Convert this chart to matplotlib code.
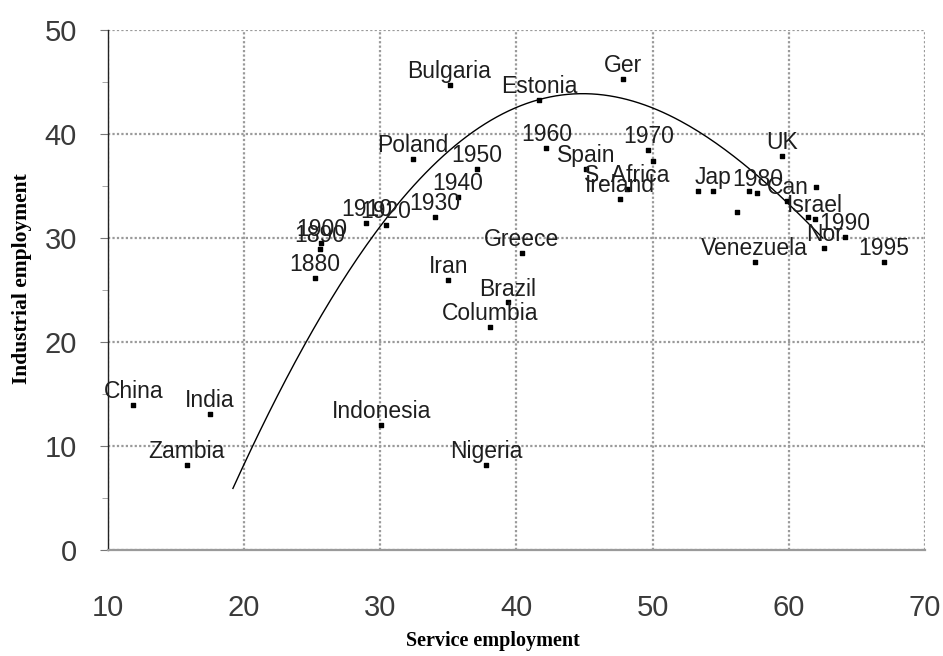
import numpy as np
import matplotlib
matplotlib.use('Agg')
import matplotlib.pyplot as plt
from matplotlib.ticker import MultipleLocator

# points: service employment (x), industrial employment (y)
names = ['China', 'India', 'Zambia', 'Indonesia', 'Nigeria', 'Columbia', 'Brazil',
         'Iran', 'Greece', 'Bulgaria', 'Estonia', 'Ger', 'Poland',
         '1880', '1890', '1900', '1910', '1920', '1930', '1940', '1950',
         '1960', 'Spain', '1970', 'S. Africa', 'Ireland', '',
         '', 'Jap', '', '1980', '', 'UK', '', 'Can', '', 'Israel',
         '1990', 'Nor', 'Venezuela', '1995']
service = [11.9, 17.5, 15.8, 30.1, 37.8, 38.1, 39.4,
           35.0, 40.4, 35.1, 41.7, 47.8, 32.4,
           25.2, 25.6, 25.7, 29.0, 30.4, 34.0, 35.7, 37.1,
           42.2, 45.1, 49.7, 48.1, 47.6, 50.0,
           53.35, 54.45, 57.1, 57.7, 56.2, 59.5, 62.0, 59.9, 61.4, 61.9,
           64.1, 62.6, 57.5, 67.0]
industry = [13.9, 13.1, 8.2, 12.0, 8.2, 21.4, 23.8,
            26.0, 28.6, 44.7, 43.3, 45.3, 37.6,
            26.2, 28.9, 29.5, 31.4, 31.25, 32.0, 33.9, 36.6,
            38.7, 36.6, 38.5, 34.7, 33.75, 37.4,
            34.5, 34.5, 34.5, 34.3, 32.5, 37.9, 34.9, 33.6, 32.0, 31.8,
            30.1, 29.0, 27.7, 27.7]

# points
curve_x = [19.2, 20.7, 24.4, 30.0, 32.2, 36.3, 40.0, 44.5, 47.1, 50.3, 53.7, 56.4, 59.9, 62.5]
curve_y = [5.9, 10.0, 20.0, 30.9, 34.3, 40.0, 42.5, 43.9, 43.75, 42.3, 39.9, 37.2, 33.65, 29.9]

fig = plt.figure(figsize=(9.43, 6.56), dpi=100)
ax = fig.add_axes([0.1141, 0.1616, 0.8668, 0.7927])

ax.set_xlim(10, 70)
ax.set_ylim(0, 50)
ax.xaxis.set_major_locator(MultipleLocator(10))
ax.yaxis.set_major_locator(MultipleLocator(10))
ax.yaxis.set_minor_locator(MultipleLocator(5))

ax.grid(True, which='major', color='#9a9a9a', linewidth=1.6, linestyle=(0, (1, 1)))
ax.set_axisbelow(True)
for s in ['top', 'right']:
    ax.spines[s].set_visible(False)
ax.spines['left'].set_color('#222222')
ax.spines['left'].set_linewidth(1.0)
ax.spines['bottom'].set_color('#9a9a9a')
ax.spines['bottom'].set_linewidth(1.6)

ax.tick_params(axis='y', which='major', length=6, color='#777777', pad=16,
               labelsize=21, labelcolor='#3a3a3a')
ax.tick_params(axis='y', which='minor', length=4, color='#999999')
ax.tick_params(axis='x', which='major', length=0, pad=32,
               labelsize=21, labelcolor='#3a3a3a')
for lab in ax.get_xticklabels() + ax.get_yticklabels():
    lab.set_family('Liberation Sans')

# trend curve
coef = np.polyfit(curve_x, curve_y, 4)
xs = np.linspace(curve_x[0], curve_x[-1], 200)
ax.plot(xs, np.polyval(coef, xs), color='black', linewidth=1.0)

ax.scatter(service, industry, marker='s', s=9, color='black', zorder=3)
for n, x, y in zip(names, service, industry):
    if n:
        ax.annotate(n, (x, y), xytext=(0, 5), textcoords='offset points',
                    ha='center', va='baseline', fontsize=16.5,
                    family='Liberation Sans', color='#1e1e1e')

ax.set_xlabel('Service employment', family='Liberation Serif',
              fontweight='bold', fontsize=14.5)
ax.set_ylabel('Industrial employment', family='Liberation Serif',
              fontweight='bold', fontsize=15.5)
ax.xaxis.set_label_coords(0.4715, -0.156)
ax.yaxis.set_label_coords(-0.0925, 0.522)

fig.savefig('out.png', dpi=100)
